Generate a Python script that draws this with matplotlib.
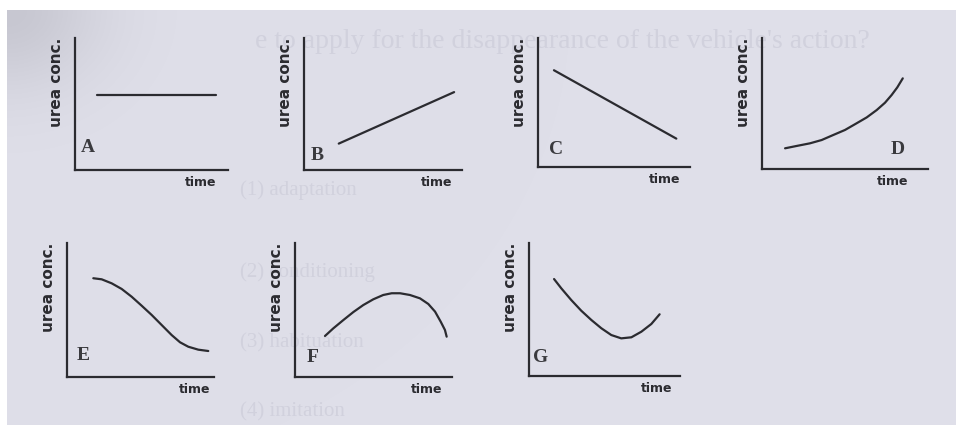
import numpy as np
import matplotlib
matplotlib.use("Agg")
import matplotlib.pyplot as plt

W, H = 956, 425

# sketched curves, each panel on a 0-10 by 0-10 frame
a_x = [1.44, 9.2]
a_y = [5.7, 5.7]
b_x = [2.2, 9.5]
b_y = [2.0, 5.9]
c_x = [1.05, 9.1]
c_y = [7.5, 2.2]
d_x = [1.39, 2.09, 2.89, 3.59, 4.30, 5.00, 5.70, 6.31, 6.91, 7.41, 7.81, 8.15, 8.48]
d_y = [1.58, 1.76, 1.96, 2.21, 2.60, 2.98, 3.49, 3.94, 4.50, 5.06, 5.65, 6.23, 6.92]
e_x = [1.79, 2.36, 3.04, 3.72, 4.40, 5.08, 5.76, 6.44, 7.12, 7.69, 8.25, 8.93, 9.61]
e_y = [7.37, 7.29, 6.99, 6.57, 5.99, 5.32, 4.63, 3.88, 3.13, 2.59, 2.26, 2.04, 1.94]
f_x = [1.91, 2.44, 3.08, 3.72, 4.35, 4.99, 5.62, 6.16, 6.69, 7.32, 7.96, 8.49,
       8.92, 9.28, 9.55, 9.66]
f_y = [3.06, 3.63, 4.25, 4.85, 5.37, 5.80, 6.12, 6.25, 6.25, 6.12, 5.87, 5.45,
       4.88, 4.13, 3.51, 3.01]
g_x = [1.66, 2.14, 2.80, 3.46, 4.13, 4.79, 5.45, 6.11, 6.78, 7.44, 8.10, 8.65]
g_y = [7.29, 6.59, 5.71, 4.91, 4.21, 3.59, 3.08, 2.83, 2.91, 3.33, 3.91, 4.64]

letters = ["A", "B", "C", "D", "E", "F", "G"]
curves = [(a_x, a_y), (b_x, b_y), (c_x, c_y), (d_x, d_y),
          (e_x, e_y), (f_x, f_y), (g_x, g_y)]
y_label = "urea conc."
x_label = "time"

# faint print bleeding through from the other side of the page
ghost_lines = ["e to apply for the disappearance of the vehicle's action?",
               "(1) adaptation", "(2) conditioning", "(3) habituation",
               "(4) imitation"]

# panel frames in pixels: left, right, bottom, top
frames = [(75, 228, 170, 38), (304, 462, 170, 38), (538, 690, 167, 38),
          (762, 928, 169, 38), (67, 214, 377, 243), (295, 452, 377, 243),
          (529, 680, 376, 243)]
# letter position (px from left or right edge, px above bottom), anchor side
letter_pos = [(13, 22, "l"), (13, 15, "l"), (18, 17, "l"), (-30, 19, "r"),
              (16, 22, "l"), (18, 20, "l"), (12, 18, "l")]
time_dx = [-27, -25, -25, -35, -19, -25, -23]

ink = "#2b2b30"
fig = plt.figure(figsize=(W / 100, H / 100), dpi=100, facecolor="white")

# scanned page background with a darker top-left corner
bg = fig.add_axes([7 / W, 0, 1 - 7 / W, 415 / H])
yy, xx = np.mgrid[0:415, 0:949]
shade = np.exp(-((xx / 95.0) ** 2 + (yy / 80.0) ** 2)) * 24
base = np.array([223, 223, 233], float)
img = np.clip(base[None, None, :] - shade[..., None], 0, 255) / 255
bg.imshow(img, aspect="auto", extent=(0, 949, 415, 0), interpolation="bilinear")
bg.set_xlim(0, 949)
bg.set_ylim(415, 0)
bg.axis("off")

ghost_kw = dict(color="#d1d1dd", family="Liberation Serif", va="center")
bg.text(248, 32, ghost_lines[0], fontsize=20, **ghost_kw)
for txt, yp in zip(ghost_lines[1:], [180, 262, 333, 402]):
    bg.text(233, yp, txt, fontsize=15, **ghost_kw)


def px_rect(l, r, b, t):
    return [l / W, 1 - b / H, (r - l) / W, (b - t) / H]


for i, (l, r, b, t) in enumerate(frames):
    ax = fig.add_axes(px_rect(l, r, b, t))
    ax.patch.set_alpha(0)
    ax.set_xlim(0, 10)
    ax.set_ylim(0, 10)
    for s in ("top", "right"):
        ax.spines[s].set_visible(False)
    for s in ("left", "bottom"):
        ax.spines[s].set_color(ink)
        ax.spines[s].set_linewidth(1.6)
    ax.set_xticks([])
    ax.set_yticks([])

    x, y = curves[i]
    ax.plot(x, y, color=ink, lw=1.6, solid_capstyle="round",
            solid_joinstyle="round")

    ax.annotate(y_label, xy=(0, 1), xycoords="axes fraction",
                xytext=(-13.5, 0), textcoords="offset points",
                rotation=90, ha="center", va="top",
                fontsize=11, fontweight="bold", color=ink)
    ax.annotate(x_label, xy=(1, 0), xycoords="axes fraction",
                xytext=(time_dx[i] * 0.72, -9), textcoords="offset points",
                ha="center", va="center",
                fontsize=9, fontweight="bold", color=ink)
    dx, dy, side = letter_pos[i]
    ax.annotate(letters[i], xy=(0 if side == "l" else 1, 0),
                xycoords="axes fraction",
                xytext=(dx * 0.72, dy * 0.72), textcoords="offset points",
                ha="center", va="center", family="Liberation Serif",
                fontsize=14, fontweight="bold", color="#3a3a3e")

fig.savefig("out.png", dpi=100, facecolor="white")
